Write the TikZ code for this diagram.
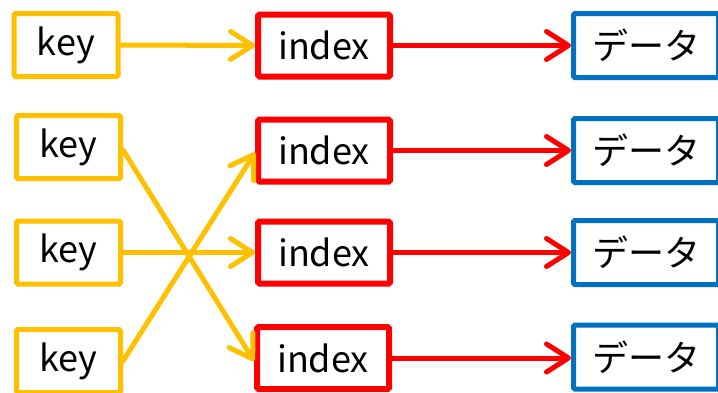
\documentclass[tikz,border=0pt]{standalone}
\usepackage{fontspec}
\newfontfamily\jpfont{Noto Sans CJK JP}
\usetikzlibrary{arrows.meta}
\definecolor{keyyellow}{HTML}{FFC000}
\definecolor{idxred}{HTML}{FF0000}
\definecolor{datblue}{HTML}{0070C0}
\tikzset{
  box/.style={fill=white, rounded corners=1.5pt, inner sep=0pt,
    font=\jpfont\fontsize{36}{42}\selectfont, text=black},
  keybox/.style={box, draw=keyyellow, line width=5pt, minimum width=104pt, minimum height=63pt},
  idxbox/.style={box, draw=idxred, line width=6pt, minimum width=132pt, minimum height=62pt},
  datbox/.style={box, draw=datblue, line width=5pt, minimum width=145pt, minimum height=64pt},
  barb/.style={-{Straight Barb[length=22pt, width=28pt, line cap=round, line join=round]},
    line width=5pt, line cap=round},
  keyarrow/.style={barb, draw=keyyellow},
  idxarrow/.style={barb, draw=idxred},
}
\begin{document}
\begin{tikzpicture}[x=1pt, y=-1pt]
\useasboundingbox (0,0) rectangle (718,392);

% key column
\node[keybox] (k1) at (66,45)    {key};
\node[keybox] (k2) at (68.5,147) {key};
\node[keybox] (k3) at (68.5,252.5) {key};
\node[keybox] (k4) at (68.5,361) {key};

% index column
\node[idxbox] (i1) at (324,45.5)  {index};
\node[idxbox] (i2) at (324,150.5) {index};
\node[idxbox] (i3) at (324,252.5) {index};
\node[idxbox] (i4) at (323,358)   {index};

% data column
\node[datbox] (d1) at (646,45.5)  {データ};
\node[datbox] (d2) at (646,150.5) {データ};
\node[datbox] (d3) at (646,252.5) {データ};
\node[datbox] (d4) at (646,357)   {データ};

% key -> index
\draw[keyarrow] (k1.east) -- (i1.west);
\draw[keyarrow] ([yshift=-3pt]k2.east) -- ([yshift=-3pt]i4.west);
\draw[keyarrow] (k3.east) -- (i3.west);
\draw[keyarrow] (k4.east) -- ([yshift=-2pt]i2.west);

% index -> data
\draw[idxarrow] (i1.east) -- (i1.east -| d1.west);
\draw[idxarrow] (i2.east) -- (i2.east -| d2.west);
\draw[idxarrow] (i3.east) -- (i3.east -| d3.west);
\draw[idxarrow] (i4.east) -- (i4.east -| d4.west);
\end{tikzpicture}
\end{document}
